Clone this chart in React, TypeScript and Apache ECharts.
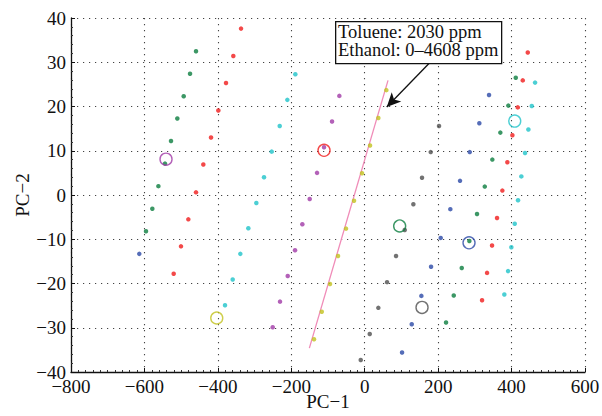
import React, { useEffect, useRef } from "react";
import * as echarts from "echarts";

const xTicks = { min: -800, max: 600, interval: 200 };
const yTicks = { min: -40, max: 40, interval: 10 };

const greenDots = [
  [-459.5, 32.5], [-475.8, 27.4], [-493, 22.3], [-510.4, 17.3], [-527.6, 12.2],
  [-544, 7.1], [-562, 2.0], [-578.5, -3.1], [-595.7, -8.2],
  [411.4, 26.5], [391.2, 20.2], [369.4, 14.1], [347.6, 8.0], [327, 1.9],
  [305.9, -4.3], [285, -10.4], [264.3, -16.5], [242.5, -22.7], [221.5, -28.8],
];
const redDots = [
  [-336.9, 37.6], [-357.9, 31.4], [-377.8, 25.3], [-398.7, 19.1], [-418.6, 13.0],
  [-439.6, 6.9], [-459.5, 0.6], [-480.4, -5.5], [-500.4, -11.6], [-520.3, -17.8],
  [444.1, 32.2], [430.5, 25.9], [416.9, 19.8], [402.2, 13.5], [388.5, 7.4],
  [374.9, 1.0], [360.4, -5.2], [346.8, -11.4], [333.2, -17.6], [319.6, -23.8],
];
const cyanDots = [
  [-189, 27.3], [-210.8, 21.5], [-231.5, 15.6], [-253.3, 9.8], [-274.3, 4.0],
  [-295.2, -1.8], [-317, -7.5], [-338.8, -13.3], [-359.6, -19.1], [-380.5, -24.9],
  [464, 25.4], [455, 20.1], [445.8, 14.8], [436.7, 9.5], [426.6, 4.2],
  [417.6, -1.2], [408.6, -6.5], [399.4, -11.8], [390.4, -17.2], [380.3, -22.5],
];
const purpleDots = [
  [-69.1, 22.4], [-89, 16.6], [-110.8, 10.8], [-129.9, 5.0], [-149.8, -0.9],
  [-169.9, -6.6], [-189.8, -12.5], [-209.7, -18.3], [-230.7, -24.1], [-250.6, -29.9],
];
const yellowDots = [
  [58.9, 23.7], [37.1, 17.4], [14.5, 11.2], [-7.3, 4.9], [-29.1, -1.3],
  [-50.9, -7.6], [-72.7, -13.8], [-94.5, -20.1], [-117, -26.4], [-138.1, -32.6],
];
const grayDots = [
  [202.4, 15.6], [179.8, 9.7], [156.1, 3.9], [132.5, -2.1], [109, -7.9],
  [85.3, -13.8], [60.8, -19.7], [37.1, -25.5], [13.7, -31.4], [-10.8, -37.3],
];
const blueDots = [
  [338.6, 22.6], [312.2, 16.2], [286.1, 9.7], [259.6, 3.2], [233.2, -3.2],
  [207, -9.7], [180.7, -16.2], [154.3, -22.8], [128.1, -29.2], [101.7, -35.6],
  [-614, -13.3],
];

const circleNames = ["purple", "red", "cyan", "yellow", "green", "blue", "gray"];
const circlePoints = [
  [-541.2, 8.1], [-110.8, 10.1], [408.6, 16.7], [-403, -27.8],
  [95.2, -7.0], [284.1, -10.8], [156.1, -25.4],
];

const fitLine = [[-150.8, -34.6], [63.5, 25.9]];
const arrowFrom = [175, 29.7];
const arrowTo = [60, 19.9];
const annotationLines = ["Toluene: 2030 ppm", "Ethanol: 0\u20134608 ppm"];

const COLORS: Record<string, string> = {
  green: "#0b7d3f",
  red: "#f01c1c",
  cyan: "#1fc3c9",
  purple: "#a03aa6",
  yellow: "#c2c21e",
  gray: "#4f4f4f",
  blue: "#2a48a6",
};

const FONT = "'Liberation Serif', 'DejaVu Serif', serif";
const minus = (v: number) => String(v).replace("-", "\u2212");

export default function App() {
  const ref = useRef<HTMLDivElement>(null);
  useEffect(() => {
    if (!ref.current) return;
    const chart = echarts.init(ref.current, null, { renderer: "svg" });

    const dotSeries = (name: string, data: number[][]) => ({
      type: "scatter",
      name,
      data,
      symbol: "circle",
      symbolSize: 4.5,
      itemStyle: { color: COLORS[name] },
      z: 3,
    });

    const circles = circleNames.map((n, i) => ({
      type: "scatter",
      name: n + "-centroid",
      data: [circlePoints[i]],
      symbol: "circle",
      symbolSize: 12,
      itemStyle: { color: "none", borderColor: COLORS[n], borderWidth: 1.4 },
      z: 4,
    }));

    const gridLine = { show: true, lineStyle: { color: "#444", type: [1.2, 4.8], width: 1.1 } };

    chart.setOption({
      animation: false,
      grid: { left: 71, right: 17, top: 18, bottom: 44, outerBoundsMode: "none", containLabel: false },
      xAxis: {
        type: "value",
        min: xTicks.min,
        max: xTicks.max,
        interval: xTicks.interval,
        name: "PC\u22121",
        nameLocation: "middle",
        nameGap: 20,
        nameMoveOverlap: false,
        nameTextStyle: { fontFamily: FONT, fontSize: 19, color: "#111" },
        axisLine: { show: true, onZero: false, lineStyle: { color: "#111", width: 1.3 } },
        axisTick: { show: true, inside: true, length: 4, lineStyle: { color: "#111" } },
        minorTick: { show: true, splitNumber: 10, length: 2, lineStyle: { color: "#333" } },
        axisLabel: { formatter: minus, fontFamily: FONT, fontSize: 19, color: "#111", margin: 5 },
        splitLine: gridLine,
      },
      yAxis: {
        type: "value",
        min: yTicks.min,
        max: yTicks.max,
        interval: yTicks.interval,
        name: "PC\u22122",
        nameLocation: "middle",
        nameGap: 39,
        nameMoveOverlap: false,
        nameTextStyle: { fontFamily: FONT, fontSize: 19, color: "#111" },
        axisLine: { show: true, onZero: false, lineStyle: { color: "#111", width: 1.3 } },
        axisTick: { show: true, inside: true, length: 4, lineStyle: { color: "#111" } },
        minorTick: { show: true, splitNumber: 5, length: 2, lineStyle: { color: "#333" } },
        axisLabel: { formatter: minus, fontFamily: FONT, fontSize: 19, color: "#111", margin: 5 },
        splitLine: gridLine,
      },
      series: [
        dotSeries("green", greenDots),
        dotSeries("red", redDots),
        dotSeries("cyan", cyanDots),
        dotSeries("purple", purpleDots),
        dotSeries("yellow", yellowDots),
        dotSeries("gray", grayDots),
        dotSeries("blue", blueDots),
        ...circles,
        {
          type: "line",
          name: "fit",
          data: fitLine,
          symbol: "none",
          lineStyle: { color: "#f08cb8", width: 1.3 },
          z: 2,
          markLine: {
            silent: true,
            symbol: ["none", "arrow"],
            symbolSize: [10, 14],
            label: { show: false },
            lineStyle: { color: "#111", width: 1.3, type: "solid" },
            data: [[{ coord: arrowFrom }, { coord: arrowTo }]],
          },
        },
      ],
      graphic: [
        {
          type: "rect",
          left: 335,
          top: 21,
          shape: { width: 166, height: 42 },
          style: { fill: "#fff", stroke: "#111", lineWidth: 1.3 },
          z: 10,
        },
        {
          type: "text",
          left: 338,
          top: 22,
          style: {
            text: annotationLines.join("\n"),
            fontFamily: FONT,
            fontSize: 18.5,
            lineHeight: 18,
            fill: "#111",
          },
          z: 11,
        },
      ],
    });
    return () => chart.dispose();
  }, []);
  return (
    <div
      ref={ref}
      style={{ position: "fixed", left: 0, top: 0, width: 602, height: 416, background: "#fff" }}
    />
  );
}
